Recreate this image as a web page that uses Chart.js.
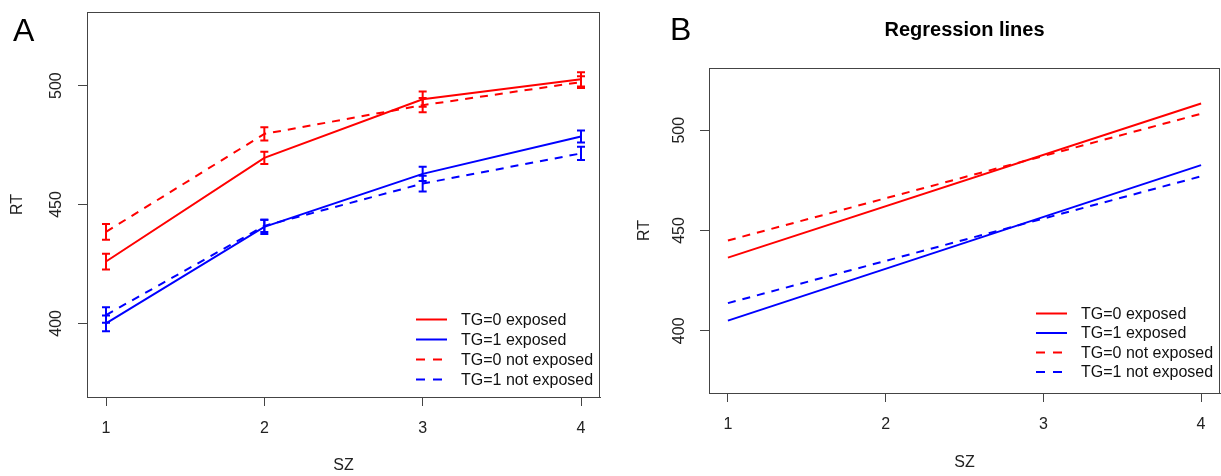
<!DOCTYPE html>
<html>
<head>
<meta charset="utf-8">
<script src="https://cdn.jsdelivr.net/npm/chart.js@4"></script>
<style>
  html, body { margin: 0; padding: 0; background: #fff; overflow: hidden; }
  canvas { position: absolute; top: 0; }
  #painelA { left: 0; }
  #painelB { left: 610px; }
</style>
</head>
<body>
<canvas id="painelA" width="610" height="476"></canvas>
<canvas id="painelB" width="611" height="476"></canvas>
<script>
// dados
const sz = [1, 2, 3, 4];
const rtTicks = [400, 450, 500];

// painel A: medias e erros
const rtExpostoTG0 = [426, 469.6, 494.3, 502.7];
const rtExpostoTG1 = [400, 440.6, 462.9, 478.6];
const rtNaoExpostoTG0 = [438.5, 479.7, 491.8, 501.5];
const rtNaoExpostoTG1 = [403.5, 441, 458.8, 471.5];
const erroExpostoTG0 = [3.3, 2.6, 3.2, 3];
const erroExpostoTG1 = [3.3, 3, 3, 2.5];
const erroNaoExpostoTG0 = [3.3, 2.8, 3, 2.5];
const erroNaoExpostoTG1 = [3.3, 2.6, 3.3, 2.8];

// painel B: retas de regressao (extremos)
const szReta = [1, 4];
const retaExpostoTG0 = [436.5, 513.3];
const retaExpostoTG1 = [405.1, 482.6];
const retaNaoExpostoTG0 = [445, 508.2];
const retaNaoExpostoTG1 = [413.8, 477];

const legendas = ["TG=0 exposed", "TG=1 exposed", "TG=0 not exposed", "TG=1 not exposed"];
const VERMELHO = "#ff0000";
const AZUL = "#0000ff";
const TRACO = [8, 7];
const FONTE = "'Liberation Sans', Arial, sans-serif";

Chart.defaults.font.family = FONTE;

function pontos(xs, ys) {
  return xs.map((x, i) => ({ x: x, y: ys[i] }));
}

function serie(label, xs, ys, cor, tracejado, erros) {
  return {
    label: label,
    data: pontos(xs, ys),
    borderColor: cor,
    backgroundColor: cor,
    borderWidth: 2,
    borderDash: tracejado ? TRACO : [],
    pointRadius: 0,
    tension: 0,
    erros: erros || null
  };
}

// moldura estilo R, rotulos, legenda e barras de erro
const estiloR = {
  id: "estiloR",
  afterDatasetsDraw(chart, args, opts) {
    const ctx = chart.ctx;
    const xs = chart.scales.x;
    const ys = chart.scales.y;
    ctx.save();
    ctx.beginPath();
    ctx.rect(chart.chartArea.left, chart.chartArea.top, chart.chartArea.right - chart.chartArea.left, chart.chartArea.bottom - chart.chartArea.top);
    ctx.clip();
    chart.data.datasets.forEach(ds => {
      if (!ds.erros) return;
      ctx.strokeStyle = ds.borderColor;
      ctx.lineWidth = 2;
      ctx.setLineDash([]);
      ds.data.forEach((p, i) => {
        const px = xs.getPixelForValue(p.x);
        const y1 = ys.getPixelForValue(p.y - ds.erros[i]);
        const y2 = ys.getPixelForValue(p.y + ds.erros[i]);
        ctx.beginPath();
        ctx.moveTo(px, y1); ctx.lineTo(px, y2);
        ctx.moveTo(px - 4, y1); ctx.lineTo(px + 4, y1);
        ctx.moveTo(px - 4, y2); ctx.lineTo(px + 4, y2);
        ctx.stroke();
      });
    });
    ctx.restore();
  },
  afterDraw(chart, args, opts) {
    const ctx = chart.ctx;
    const area = chart.chartArea;
    const ys = chart.scales.y;
    ctx.save();

    // caixa
    ctx.strokeStyle = "#444";
    ctx.lineWidth = 1;
    ctx.strokeRect(Math.round(area.left) + 0.5, Math.round(area.top) + 0.5,
      Math.round(area.right - area.left) - 1, Math.round(area.bottom - area.top));

    // rotulos do eixo y (verticais)
    ctx.fillStyle = "#222";
    ctx.font = "16px " + FONTE;
    ctx.textAlign = "center";
    ctx.textBaseline = "middle";
    ys.ticks.forEach(t => {
      ctx.save();
      ctx.translate(opts.rotuloY, ys.getPixelForValue(t.value));
      ctx.rotate(-Math.PI / 2);
      ctx.fillText(String(t.value), 0, 0);
      ctx.restore();
    });

    // titulos dos eixos
    const meioY = (area.top + area.bottom) / 2;
    ctx.save();
    ctx.translate(opts.tituloYx, meioY);
    ctx.rotate(-Math.PI / 2);
    ctx.fillText("RT", 0, 0);
    ctx.restore();
    ctx.fillText("SZ", (area.left + area.right) / 2, opts.tituloXy);

    // letra do painel
    ctx.textAlign = "left";
    ctx.textBaseline = "alphabetic";
    ctx.fillStyle = "#000";
    ctx.font = "32px " + FONTE;
    ctx.fillText(opts.letra, opts.letraX, opts.letraY);

    if (opts.titulo) {
      ctx.textAlign = "center";
      ctx.textBaseline = "middle";
      ctx.font = "bold 20px " + FONTE;
      ctx.fillText(opts.titulo, (area.left + area.right) / 2, 30);
    }

    // legenda
    const leg = opts.legenda;
    ctx.font = "16px " + FONTE;
    ctx.textAlign = "left";
    ctx.textBaseline = "middle";
    chart.data.datasets.forEach((ds, i) => {
      const y = leg.y + i * leg.passo;
      const tracejado = ds.borderDash && ds.borderDash.length;
      ctx.strokeStyle = ds.borderColor;
      ctx.lineWidth = 2;
      ctx.setLineDash(tracejado ? [9, 8] : []);
      ctx.beginPath();
      ctx.moveTo(leg.x, y);
      ctx.lineTo(leg.x + (tracejado ? 26 : 31), y);
      ctx.stroke();
      ctx.setLineDash([]);
      ctx.fillStyle = "#111";
      ctx.fillText(ds.label, leg.x + 45, y + 1);
    });
    ctx.restore();
  }
};

function criarPainel(id, datasets, cfg) {
  const ctx = document.getElementById(id).getContext("2d");
  return new Chart(ctx, {
    type: "line",
    data: { datasets: datasets },
    options: {
      responsive: false,
      animation: false,
      devicePixelRatio: 1,
      layout: { padding: cfg.padding },
      plugins: {
        legend: { display: false },
        tooltip: { enabled: false },
        estiloR: cfg.estilo
      },
      scales: {
        x: {
          type: "linear",
          min: 0.88,
          max: 4.12,
          afterBuildTicks: s => { s.ticks = sz.map(v => ({ value: v })); },
          afterFit: s => { s.height = cfg.alturaX; },
          ticks: { color: "#222", font: { size: 16 }, padding: cfg.padTickX },
          grid: { drawOnChartArea: false, drawTicks: true, tickLength: 9, color: "#444" },
          border: { display: true, color: "#444" }
        },
        y: {
          type: "linear",
          min: 369,
          max: 531,
          afterBuildTicks: s => { s.ticks = rtTicks.map(v => ({ value: v })); },
          afterFit: s => { s.width = cfg.larguraY; },
          ticks: { display: false },
          grid: { drawOnChartArea: false, drawTicks: true, tickLength: 9, color: "#444" },
          border: { display: true, color: "#444" }
        }
      }
    },
    plugins: [estiloR]
  });
}

criarPainel("painelA", [
  serie(legendas[0], sz, rtExpostoTG0, VERMELHO, false, erroExpostoTG0),
  serie(legendas[1], sz, rtExpostoTG1, AZUL, false, erroExpostoTG1),
  serie(legendas[2], sz, rtNaoExpostoTG0, VERMELHO, true, erroNaoExpostoTG0),
  serie(legendas[3], sz, rtNaoExpostoTG1, AZUL, true, erroNaoExpostoTG1)
], {
  padding: { top: 12, right: 10, left: 0, bottom: 0 },
  alturaX: 79,
  larguraY: 87,
  padTickX: 13,
  estilo: {
    letra: "A", letraX: 13, letraY: 41,
    rotuloY: 57, tituloYx: 18, tituloXy: 466,
    legenda: { x: 416, y: 319.5, passo: 20 }
  }
});

criarPainel("painelB", [
  serie(legendas[0], szReta, retaExpostoTG0, VERMELHO, false),
  serie(legendas[1], szReta, retaExpostoTG1, AZUL, false),
  serie(legendas[2], szReta, retaNaoExpostoTG0, VERMELHO, true),
  serie(legendas[3], szReta, retaNaoExpostoTG1, AZUL, true)
], {
  padding: { top: 68, right: 1, left: 0, bottom: 0 },
  alturaX: 83,
  larguraY: 99,
  padTickX: 13,
  estilo: {
    letra: "B", letraX: 60, letraY: 40,
    rotuloY: 70, tituloYx: 35, tituloXy: 463,
    titulo: "Regression lines",
    legenda: { x: 426, y: 313.5, passo: 19.5 }
  }
});
</script>
</body>
</html>
